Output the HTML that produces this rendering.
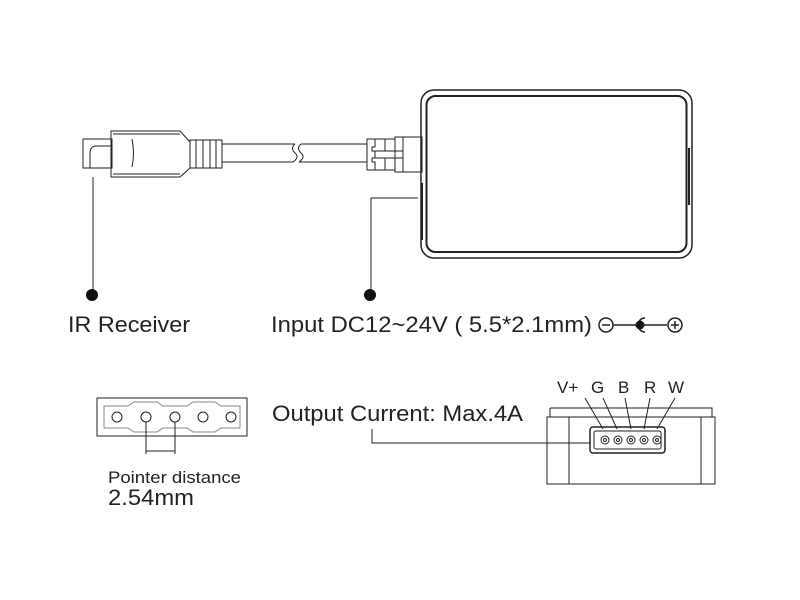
<!DOCTYPE html>
<html><head><style>html,body{margin:0;padding:0;background:#fff}svg{display:block}</style></head><body>
<svg width="800" height="600" xmlns="http://www.w3.org/2000/svg" font-family="Liberation Sans, sans-serif" fill="none" stroke="#222" stroke-width="1">
<!-- main box -->
<rect x="421" y="90" width="271" height="168" rx="13" stroke-width="1.5"/>
<rect x="426.5" y="96" width="260" height="156" rx="9" stroke-width="2"/>
<line x1="689" y1="148" x2="689" y2="205" stroke-width="2"/>
<line x1="422" y1="183" x2="422" y2="240" stroke-width="2"/>
<!-- IR plug -->
<rect x="83" y="139" width="29" height="29"/>
<path d="M112 146 H96 q-6 0 -6 8 v14"/>
<path d="M111 131 H180 L190 142 V168 L180 177 H111 Z"/>
<line x1="113" y1="134" x2="180" y2="134"/><line x1="113" y1="174" x2="180" y2="174"/>
<path d="M132 139 q3 14 0 28"/>
<rect x="190" y="140" width="32" height="28"/>
<line x1="196" y1="140" x2="196" y2="168"/><line x1="203" y1="140" x2="203" y2="168"/><line x1="210" y1="140" x2="210" y2="168"/><line x1="216" y1="140" x2="216" y2="168"/>
<!-- cable -->
<line x1="222" y1="144" x2="295" y2="144"/><line x1="222" y1="162" x2="293" y2="162"/>
<path d="M295 144 q-5 4 0 9 q5 4 -2 9"/>
<path d="M301 144 q-5 4 0 9 q5 4 -2 9"/>
<line x1="301" y1="144" x2="367" y2="144"/><line x1="299" y1="162" x2="367" y2="162"/>
<!-- strain relief -->
<path d="M367 139 H375 V147 H372 V151 H375 V158 H372 V162 H375 V170 H367 Z"/>
<path d="M375 139 H385 V151 H375 M375 158 H385 V170 H375"/>
<path d="M385 139 H395 V151 H385 M385 158 H395 V170 H385"/>
<path d="M395 137 H422 V172 H395 Z M395 151 H403 M395 158 H403 M403 137 V172"/>
<!-- leaders -->
<line x1="93" y1="177" x2="93" y2="295"/>
<circle cx="92" cy="295" r="6" fill="#111" stroke="none"/>
<path d="M418 198 H371 V295"/>
<circle cx="370" cy="295" r="6" fill="#111" stroke="none"/>
<g fill="#222" stroke="none" font-size="22">
<text x="68" y="332" textLength="122" lengthAdjust="spacingAndGlyphs">IR Receiver</text>
<text x="271" y="332" textLength="321" lengthAdjust="spacingAndGlyphs">Input DC12~24V ( 5.5*2.1mm)</text>
</g>
<!-- polarity -->
<circle cx="606" cy="325" r="7" stroke-width="1.5"/><line x1="602" y1="325" x2="610" y2="325" stroke-width="1.5"/>
<line x1="613" y1="325" x2="640" y2="325" stroke-width="1.5"/>
<path d="M645 318 a7 7 0 1 0 0 14" stroke-width="1.5"/>
<circle cx="640" cy="325" r="4" fill="#111"/>
<line x1="640" y1="325" x2="667" y2="325" stroke-width="1.5"/>
<circle cx="675" cy="325" r="7" stroke-width="1.5"/><line x1="671" y1="325" x2="679" y2="325" stroke-width="1.5"/><line x1="675" y1="321" x2="675" y2="329" stroke-width="1.5"/>
<!-- left connector strip -->
<rect x="97" y="398" width="150" height="38"/>
<path d="M104 406 H128 L134 402 H157 L163 406 H187 L193 402 H215 L221 406 H240 V428 H221 L215 432 H193 L187 428 H163 L157 432 H134 L128 428 H104 Z" stroke="#888"/>
<circle cx="117" cy="417" r="5"/><circle cx="146" cy="417" r="5"/><circle cx="175" cy="417" r="5"/><circle cx="203" cy="417" r="5"/><circle cx="231" cy="417" r="5"/>
<line x1="146" y1="422" x2="146" y2="454"/><line x1="175" y1="422" x2="175" y2="454"/><line x1="146" y1="451" x2="175" y2="451"/>
<g fill="#222" stroke="none">
<text x="108" y="483" font-size="17" textLength="133" lengthAdjust="spacingAndGlyphs">Pointer distance</text>
<text x="108" y="505" font-size="22" textLength="86" lengthAdjust="spacingAndGlyphs">2.54mm</text>
<text x="272" y="421" font-size="22" textLength="251" lengthAdjust="spacingAndGlyphs">Output Current: Max.4A</text>
<text x="557" y="393" font-size="17">V+</text>
<text x="591" y="393" font-size="17">G</text>
<text x="618" y="393" font-size="17">B</text>
<text x="644" y="393" font-size="17">R</text>
<text x="668" y="393" font-size="17">W</text>
</g>
<!-- right device -->
<path d="M372 429 V443 H590"/>
<path d="M550 408 H712 V417 M550 408 V417"/>
<rect x="547" y="417" width="168" height="67"/>
<line x1="569" y1="417" x2="569" y2="484"/><line x1="701" y1="417" x2="701" y2="484"/>
<rect x="590" y="427" width="75" height="26" rx="3" stroke-width="1.5"/>
<rect x="594" y="431" width="67" height="18" rx="2"/>
<circle cx="605" cy="440" r="4"/><circle cx="605" cy="440" r="1.5"/>
<circle cx="618" cy="440" r="4"/><circle cx="618" cy="440" r="1.5"/>
<circle cx="631" cy="440" r="4"/><circle cx="631" cy="440" r="1.5"/>
<circle cx="644" cy="440" r="4"/><circle cx="644" cy="440" r="1.5"/>
<circle cx="657" cy="440" r="4"/><circle cx="657" cy="440" r="1.5"/>
<line x1="585" y1="398" x2="603" y2="429"/>
<line x1="603" y1="398" x2="617" y2="429"/>
<line x1="625" y1="398" x2="631" y2="429"/>
<line x1="650" y1="398" x2="644" y2="429"/>
<line x1="675" y1="398" x2="657" y2="429"/>
</svg>
</body></html>
